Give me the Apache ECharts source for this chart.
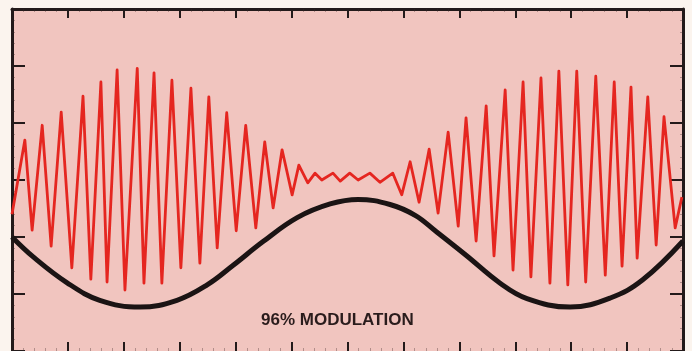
<!DOCTYPE html>
<html>
<head>
<meta charset="utf-8">
<title>96% Modulation</title>
<script src="https://cdn.jsdelivr.net/npm/echarts@6/dist/echarts.min.js"></script>
<style>
  html, body { margin: 0; padding: 0; background: #fbf4ee; }
  #chart { width: 692px; height: 351px; }
</style>
</head>
<body>
<div id="chart"></div>
<script>
// modulated carrier (red) - peaks and troughs, x in divisions
var carrierTime = [
  0.00, 0.23, 0.36, 0.54, 0.70, 0.88, 1.07, 1.27, 1.41, 1.59, 1.70, 1.88, 2.02,
  2.24, 2.36, 2.54, 2.68, 2.86, 3.02, 3.20, 3.36, 3.52, 3.67, 3.84, 4.01, 4.18,
  4.36, 4.52, 4.67, 4.83, 5.01, 5.13, 5.29, 5.42, 5.54, 5.74, 5.87, 6.04, 6.19,
  6.40, 6.58, 6.81, 6.97, 7.12, 7.28, 7.46, 7.62, 7.80, 7.98, 8.12, 8.30, 8.48,
  8.62, 8.82, 8.96, 9.14, 9.28, 9.46, 9.62, 9.78, 9.94, 10.10, 10.26, 10.44,
  10.61, 10.77, 10.91, 11.07, 11.18, 11.37, 11.52, 11.66, 11.86, 11.98
];
var carrierVolts = [
  -0.60, 0.70, -0.88, 0.96, -1.16, 1.19, -1.54, 1.47, -1.74, 1.72, -1.79, 1.93, -1.93,
  1.96, -1.81, 1.88, -1.81, 1.75, -1.54, 1.61, -1.46, 1.46, -1.19, 1.18, -0.89, 0.96,
  -0.84, 0.67, -0.49, 0.53, -0.26, 0.26, -0.05, 0.12, 0.00, 0.12, -0.02, 0.12, 0.00,
  0.12, -0.04, 0.12, -0.26, 0.32, -0.39, 0.54, -0.58, 0.84, -0.81, 1.09, -1.07, 1.30,
  -1.33, 1.58, -1.58, 1.72, -1.70, 1.79, -1.81, 1.91, -1.84, 1.91, -1.79, 1.82,
  -1.67, 1.72, -1.51, 1.63, -1.37, 1.46, -1.14, 1.11, -0.84, -0.30
];

// modulating tone (black)
var modTime = [
  0.00, 0.38, 0.98, 1.57, 2.29, 2.95, 3.49, 3.95, 4.49, 5.10, 5.69,
  6.19, 6.76, 7.21, 7.58, 8.12, 8.73, 9.21, 9.98, 10.70, 11.28, 12.00
];
var modVolts = [
  -1.00, -1.35, -1.80, -2.11, -2.23, -2.11, -1.84, -1.50, -1.08, -0.66, -0.42,
  -0.34, -0.43, -0.62, -0.90, -1.32, -1.81, -2.08, -2.23, -2.07, -1.75, -1.07
];

var caption = '96% MODULATION';

function zip(xs, ys) {
  return xs.map(function (x, i) { return [x, ys[i]]; });
}

var chart = echarts.init(document.getElementById('chart'));

var frameColor = '#231a1a';
var hAxisBase = {
  type: 'value',
  min: 0,
  max: 12,
  interval: 1,
  axisLabel: { show: false },
  splitLine: { show: false },
  axisTick: { show: true, inside: true, length: 9, lineStyle: { color: frameColor, width: 2 } },
  minorTick: { show: true, splitNumber: 5, length: 3, lineStyle: { color: 'rgba(60,40,40,0.35)', width: 1 } }
};
var vAxisBase = {
  type: 'value',
  min: -3,
  max: 3,
  interval: 1,
  axisLabel: { show: false },
  splitLine: { show: false },
  axisTick: { show: true, inside: true, length: 13, lineStyle: { color: frameColor, width: 2 } },
  minorTick: { show: true, splitNumber: 5, length: 3, lineStyle: { color: 'rgba(60,40,40,0.35)', width: 1 } }
};

var option = {
  backgroundColor: '#fbf4ee',
  animation: false,
  grid: {
    left: 12,
    right: 9,
    top: 9,
    bottom: 0,
    show: true,
    backgroundColor: '#f1c5bf',
    borderWidth: 0
  },
  xAxis: [
    Object.assign({}, hAxisBase, {
      position: 'top',
      axisLine: { show: true, onZero: false, lineStyle: { color: frameColor, width: 3 } }
    }),
    Object.assign({}, hAxisBase, {
      position: 'bottom',
      axisLine: { show: false, onZero: false }
    })
  ],
  yAxis: [
    Object.assign({}, vAxisBase, {
      position: 'left',
      axisLine: { show: true, onZero: false, lineStyle: { color: frameColor, width: 3 } }
    }),
    Object.assign({}, vAxisBase, {
      position: 'right',
      axisLine: { show: true, onZero: false, lineStyle: { color: frameColor, width: 3 } }
    })
  ],
  graphic: [{
    type: 'text',
    left: 261,
    top: 312,
    style: {
      text: caption,
      fill: '#2a1c1c',
      font: 'bold 17px "Liberation Sans", Arial, sans-serif'
    }
  }],
  series: [
    {
      name: 'modulation',
      type: 'line',
      xAxisIndex: 0,
      yAxisIndex: 0,
      data: zip(modTime, modVolts),
      smooth: 0.4,
      showSymbol: false,
      lineStyle: { color: '#1b1414', width: 5 },
      z: 2
    },
    {
      name: 'carrier',
      type: 'line',
      xAxisIndex: 0,
      yAxisIndex: 0,
      data: zip(carrierTime, carrierVolts),
      smooth: false,
      showSymbol: false,
      lineStyle: { color: '#e52620', width: 2.8, join: 'round' },
      z: 3
    }
  ]
};

chart.setOption(option);
</script>
</body>
</html>
